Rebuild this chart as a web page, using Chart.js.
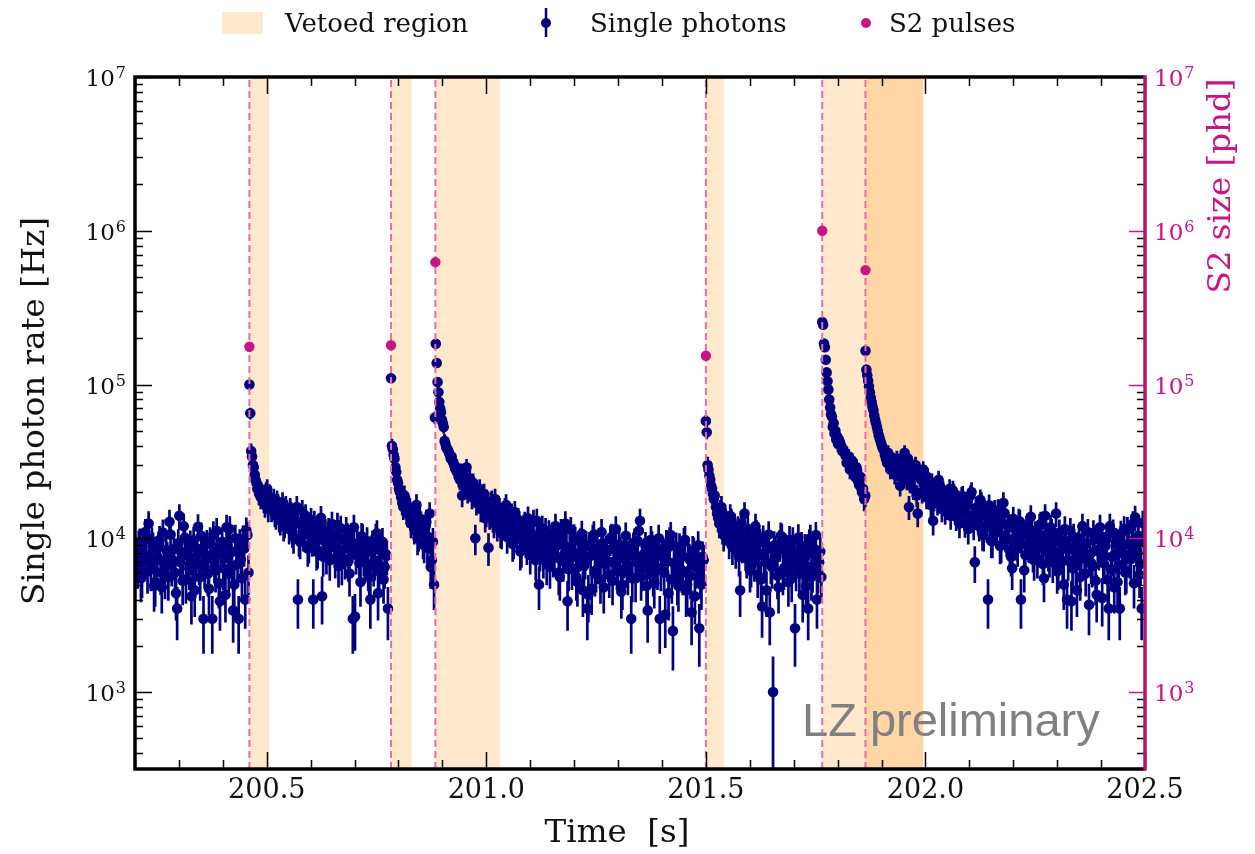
<!DOCTYPE html>
<html>
<head>
<meta charset="utf-8">
<script src="https://cdn.jsdelivr.net/npm/chart.js@4.4.1/dist/chart.umd.min.js"></script>
<style>
  html, body { margin: 0; padding: 0; background: #fff; }
  canvas { display: block; }
</style>
</head>
<body>
<canvas id="rateChart" width="1255" height="854"></canvas>
<script>
// Single photon rate around large S2 pulses (rates in kHz, binned)
const binWidth = 0.002; // s, counting window behind the Poisson error bars

const quiet0 = [8.2, 6.5, 9.4, 5.8, 7.1, 10.2, 12.5, 6.3, 8.8, 5.2, 7.6, 9.8, 4.8, 6.9, 8.4, 5.6, 10.6, 7.2, 6.0, 3.5,
  14.0, 8.1, 12.0, 5.4, 7.7, 9.1, 6.2, 4.6, 8.6, 6.8, 10.4, 3.0, 7.4, 5.9, 9.6, 3.0, 7.0, 11.2, 5.1, 8.0,
  6.4, 4.3, 9.0, 11.5, 6.6, 5.0, 8.3, 3.0, 7.3, 9.9, 4.0, 10.5];
const quiet0b = [7.0, 9.1, 5.5, 8.0, 11.0, 6.1, 7.8, 9.6, 4.9, 7.3, 8.9, 6.0, 10.9, 5.7, 7.5, 12.8, 6.7, 8.5, 4.4, 9.3,
  7.0, 5.3, 10.1, 8.2, 6.4, 4.2, 9.7, 7.1, 11.9, 5.6, 8.0, 6.5, 9.2, 4.7, 7.8, 10.6, 6.2, 8.7, 3.9, 9.5,
  7.4, 11.8, 5.9, 8.1, 3.4, 10.0, 6.8, 9.3, 5.5, 8.6, 11.3, 6.0];

const rise1 = [100, 65, 37, 34, 30, 29, 26, 24, 23, 21, 22, 19.5, 20, 18.5, 19];
const fall1 = [19, 16.5, 21, 17.5, 15.5, 18, 14, 16.5, 13, 17, 12.5, 15, 11.5, 14.5, 10.2, 12.8, 4.0, 9.5, 15, 11,
  12.5, 9.0, 13.2, 4.0, 10.5, 8.4, 12, 4.2, 9.6, 7.8, 11.2, 8.8, 10.6, 7.4, 12.2, 8.2, 6.8, 9.9, 11.4, 7.1,
  8.7, 3.0, 3.1, 9.2, 6.9, 10.3, 7.6, 8.1, 6.3, 4.0, 9.1, 7.2, 10.8, 6.1, 8.6, 5.4, 7.9, 3.5];
const fall1b = [17.5, 20, 15.5, 18.5, 16, 14.5, 17.5, 13.5, 15.5, 12, 16, 13.5, 15.5, 11, 13.5, 16, 9.8, 12.2, 10.5, 14,
  8.6, 11.4, 9.8, 12.6, 8.2, 10.9, 13.6, 7.6, 11, 9.3, 7.2, 12.4, 9.0, 10.2, 6.6, 11.6, 8.5, 7.3, 10.3, 5.9,
  9.4, 11.8, 7.8, 8.9, 5.2, 10.1, 7.0, 9.6, 5.6, 8.4, 6.7, 10.2, 4.4, 8.3, 9.5, 6.5, 7.7];

const rise2 = [110, 40, 38, 35, 33, 29, 27, 24, 23, 21, 20];
const fall2 = [18.5, 16, 17.5, 14.5, 15.5, 13, 11.5, 16.5, 10.5, 12.5, 9.5, 11.8, 8.7, 14.5, 7.2, 5.0];
const fall2b = [17, 19, 15, 16, 12.5, 14, 15, 10, 13.5, 11, 9, 12.8, 10.2, 6.5, 9.5];

const rise3 = [61, 184, 138, 104, 89, 77, 70, 66, 59, 56, 53, 43, 41, 39, 38, 37.5, 36, 35, 33, 34, 32, 31, 30, 28.5, 29, 27];
const fall3 = [27, 24, 19, 25.5, 29, 22, 20.5, 23, 10, 18.5, 21, 16, 19.5, 14.5, 8.7, 17, 13.5, 18, 12, 15.5,
  10.8, 14, 16.5, 11.5, 13, 9.2, 14.8, 10.5, 12.5, 8.5, 11.8, 9.6, 13.5, 7.8, 10.6, 8.9, 13, 5.0, 9.9, 7.4,
  11.2, 8.2, 6.5, 10.4, 7.6, 9.4, 6.0, 11, 7.1, 12.5, 3.9, 8.6, 6.4, 10.1, 5.6, 8.0, 9.5, 4.6, 7.3, 3.5,
  8.9, 4.7, 10.6, 6.2, 7.8, 5.4, 9.3, 6.8, 8.4, 5.8, 10.2, 7.0, 11.5, 6.1, 8.2, 5.0, 9.0, 6.6, 7.7, 3.0,
  8.8, 5.5, 9.6, 13, 6.3, 8.0, 4.9, 7.3, 9.8, 5.9, 7.9, 6.4, 3.0, 8.5, 6.0, 9.2, 4.4, 10.5, 2.5, 7.0,
  5.3, 8.7, 6.2, 9.5, 4.6, 7.5, 5.7, 8.3, 4.2, 6.8, 2.6, 5.0, 7.2];
const fall3b = [25, 27, 22, 23.5, 20, 24.5, 18.5, 21.5, 17, 19.5, 15.5, 18.5, 13.5, 16.5, 14, 17.5, 12.5, 15, 16, 11,
  13.8, 15.5, 10.2, 12.8, 14.2, 9.5, 11.8, 13.2, 8.2, 10.9, 12.4, 8.8, 11.3, 9.8, 12.8, 7.2, 10.4, 8.1, 11.6, 9.3,
  6.8, 10.8, 8.6, 7.5, 12.0, 9.0, 5.6, 10.3, 7.9, 8.8, 6.3, 11.4, 7.6, 9.7, 5.2, 8.1, 10.7, 6.6, 9.0, 4.3,
  7.7, 10.0, 5.9, 8.6, 6.9, 11.0, 4.8, 8.3, 7.1, 9.9, 5.3, 8.7, 6.4, 9.1, 4.5, 7.4, 10.4, 6.0, 8.1, 5.5,
  9.4, 7.0, 11.2, 5.6, 7.7, 8.9, 3.4, 6.7, 9.0, 5.1, 7.6, 10.0, 6.3, 8.2, 3.2, 7.1, 9.6, 5.4, 6.9, 8.8,
  4.9, 7.9, 6.0, 9.8, 5.0, 7.3, 3.3, 8.1, 6.5, 9.0, 5.7, 7.6];

const rise4 = [58, 49, 30, 28, 25.5, 24, 22, 21, 19.5, 18, 19];
const fall4 = [16, 13.5, 15, 11.5, 14, 12, 9.5, 13, 10.5, 8.4, 11.5, 4.6, 9.0, 14.5, 7.4, 10.2, 6.6, 8.8, 12.0, 5.8,
  9.4, 3.6, 7.6, 4.6, 10.6, 6.9, 1.0, 8.3, 5.7, 9.2, 10.2, 6.4, 8.0, 5.2, 7.3, 9.6, 2.6, 7.8, 5.9, 8.9,
  6.7, 4.9, 3.5, 10.0, 6.2, 8.5, 4.0, 7.0, 5.6];
const fall4b = [14.5, 12.5, 16, 10.5, 13, 11, 14, 8.8, 12, 10, 7.6, 12.5, 9.2, 8.2, 11.4, 6.2, 9.8, 7.1, 10.8, 8.0,
  5.4, 9.9, 7.0, 8.6, 3.3, 6.5, 9.0, 7.6, 4.8, 10.4, 6.0, 8.7, 7.1, 9.8, 5.5, 8.3, 6.3, 10.1, 7.4, 4.3,
  8.6, 6.6, 9.3, 5.6, 7.9, 10.5, 6.1, 8.2];

const rise5 = [255, 245, 185, 175, 145, 120, 105, 93, 80, 71, 64, 62, 53, 56, 48, 50, 44, 46, 41];
const fall5 = [44, 40, 38, 35, 33, 28, 32, 27, 29, 23, 25, 21, 19];
const fall5b = [42, 37, 36, 31, 34, 28, 30, 25, 24, 22, 20, 18];

const rise6 = [166, 125, 115, 106, 97, 89, 82, 77, 72, 68, 63, 59, 56, 53, 50, 47, 45, 43, 41, 39.5, 38];
const fall6 = [35, 31, 34, 29, 32, 27, 30, 22, 28, 36, 24, 16, 27, 21, 30, 14.5, 25, 20, 23, 18.5,
  21.5, 16.5, 13, 20, 17, 22, 15.5, 19, 16, 18, 14, 20.5, 15, 17.5, 12.5, 18.5, 14.5, 16.8, 11.5, 19,
  13.5, 7.0, 15.5, 12, 17, 10.5, 14, 4.0, 12.8, 9.6, 15, 11, 13.5, 9, 17, 10.4, 12.3, 8.4, 6.4, 11.6,
  9.3, 13, 4.0, 10.8, 7.8, 12, 9, 11.2, 7.2, 10, 8.6, 12.4, 6.8, 14, 9.5, 7.5, 11, 8.2, 14.5, 6.4,
  9.7, 7.1, 11.5, 4.0, 8.5, 3.9, 10.2, 6.6, 8.9, 5.6, 12, 7.4, 9.3, 3.7, 6.9, 10.8, 5.3, 8.4, 11.8, 4.1,
  7.7, 9.9, 3.5, 6.3, 10.9, 7.9, 5.2, 3.5, 8.8, 11.5, 6.1, 9.2, 7.3, 12.5, 13.7, 8.0, 5.8, 3.5, 9.4];
const fall6b = [33, 36, 28, 31, 26, 33, 29, 25, 31, 27, 33, 23, 29, 26, 19, 27, 24, 28, 21, 25,
  19, 23, 18, 21.5, 24, 17.5, 20.5, 15, 18.5, 21, 16.2, 19.5, 13.8, 17.5, 15.2, 18.8, 12.6, 16.5, 14, 20,
  12.2, 15.8, 13.2, 17.8, 10.6, 14.6, 11.8, 16.4, 9.6, 13.4, 11.5, 15.2, 8.9, 12.5, 14.6, 9.8, 11.9, 7.6, 13.4, 10.2,
  8.6, 12.8, 10.5, 6.2, 11.6, 9.1, 13.8, 8.0, 10.6, 7.4, 12.0, 9.0, 5.5, 10.6, 8.1, 11.8, 7.0, 9.5, 6.1, 10.9,
  8.5, 5.0, 9.6, 7.2, 11.2, 6.4, 8.8, 4.6, 10.0, 7.6, 9.2, 5.9, 11.0, 7.9, 6.6, 9.9, 4.3, 8.2, 10.3, 6.9,
  8.9, 5.4, 12.0, 7.6, 4.8, 9.4, 6.7, 10.7, 8.0, 6.0, 11.4, 7.4, 9.6, 5.1, 8.6, 10.4, 6.8, 12.6];

// [first bin time (s), bin spacing (s), rates]
const photonRuns = [
  [200.201, 0.005, quiet0], [200.2035, 0.005, quiet0b],
  [200.4605, 0.002, rise1], [200.491, 0.005, fall1], [200.4935, 0.005, fall1b],
  [200.783, 0.002, rise2], [200.806, 0.005, fall2], [200.8085, 0.005, fall2b],
  [200.883, 0.002, rise3], [200.935, 0.005, fall3], [200.9375, 0.005, fall3b],
  [201.500, 0.002, rise4], [201.523, 0.005, fall4], [201.5255, 0.005, fall4b],
  [201.765, 0.002, rise5], [201.803, 0.005, fall5], [201.8055, 0.005, fall5b],
  [201.8635, 0.002, rise6], [201.9075, 0.005, fall6], [201.910, 0.005, fall6b]
];

// S2 pulses and the veto windows they open
const s2Times = [200.4605, 200.783, 200.884, 201.5, 201.765, 201.8635];
const s2Sizes = [1.76e5, 1.80e5, 6.25e5, 1.54e5, 1.0e6, 5.55e5];
const vetoStart = [200.4605, 200.783, 200.884, 201.5, 201.765, 201.8635];
const vetoEnd = [200.506, 200.830, 201.031, 201.541, 201.995, 201.995];

const xMin = 200.2, xMax = 202.5;
const yMin = Math.pow(10, 2.5), yMax = 1e7;
const xMajor = [200.5, 201.0, 201.5, 202.0, 202.5];
const xMajorLabels = ['200.5', '201.0', '201.5', '202.0', '202.5'];
const yDecades = [3, 4, 5, 6, 7];

const NAVY = '#000080';
const S2_COLOR = '#c71585';
const VETO_FILL = 'rgba(255, 140, 0, 0.2)';
const SERIF = '"DejaVu Serif", serif';

const photons = [];
photonRuns.forEach(([t0, dt, rates]) => {
    rates.forEach((r, i) => photons.push({ x: t0 + i * dt, y: r * 1000 }));
});
const s2Points = s2Times.map((t, i) => ({ x: t, y: s2Sizes[i] }));

const pulseLines = s2Times.map(t => ({
    type: 'line',
    data: [{ x: t, y: yMin }, { x: t, y: yMax }],
    borderColor: '#ec6aa6',
    borderWidth: 2,
    borderDash: [7, 4],
    pointRadius: 0,
    yAxisID: 'y',
    order: 2
}));

function supLabel(ctx, exp, xRight, yTick, align) {
    ctx.font = '23px ' + SERIF;
    const baseW = ctx.measureText('10').width;
    ctx.font = '16px ' + SERIF;
    const expW = ctx.measureText(String(exp)).width;
    const left = align === 'right' ? xRight - expW - baseW - 1 : xRight;
    ctx.textAlign = 'left';
    ctx.textBaseline = 'alphabetic';
    ctx.font = '23px ' + SERIF;
    ctx.fillText('10', left, yTick + 9);
    ctx.font = '16px ' + SERIF;
    ctx.fillText(String(exp), left + baseW + 1, yTick + 1);
}

const framePlugin = {
    id: 'frame',
    beforeDatasetsDraw(chart) {
        const { ctx, chartArea: a, scales: { x, y } } = chart;
        ctx.save();
        ctx.beginPath();
        ctx.rect(a.left, a.top, a.right - a.left, a.bottom - a.top);
        ctx.clip();

        ctx.fillStyle = VETO_FILL;
        vetoStart.forEach((t, i) => {
            const x0 = x.getPixelForValue(t);
            const x1 = x.getPixelForValue(vetoEnd[i]);
            ctx.fillRect(x0, a.top, x1 - x0, a.bottom - a.top);
        });

        // Poisson error bars on the photon rate
        ctx.strokeStyle = NAVY;
        ctx.lineWidth = 2.7;
        ctx.beginPath();
        photons.forEach(p => {
            const err = Math.sqrt(p.y * binWidth) / binWidth;
            const px = x.getPixelForValue(p.x);
            ctx.moveTo(px, y.getPixelForValue(p.y + err));
            ctx.lineTo(px, y.getPixelForValue(Math.max(p.y - err, 1)));
        });
        ctx.stroke();
        ctx.restore();
    },
    afterDraw(chart) {
        const { ctx, chartArea: a, scales: { x, y, y2 } } = chart;
        ctx.save();

        // tick marks, all pointing inwards
        ctx.lineWidth = 1.5;
        ctx.strokeStyle = '#000';
        ctx.beginPath();
        for (let k = 0; k <= 23; k++) {
            const t = xMin + k * 0.1;
            const px = Math.round(x.getPixelForValue(t)) + 0.5;
            const len = k % 5 === 3 ? 17 : 9;
            ctx.moveTo(px, a.bottom); ctx.lineTo(px, a.bottom - len);
            ctx.moveTo(px, a.top); ctx.lineTo(px, a.top + len);
        }
        for (let d = 2; d <= 6; d++) {
            for (let m = 2; m <= 9; m++) {
                const v = m * Math.pow(10, d);
                if (v < yMin || v > yMax) continue;
                const py = Math.round(y.getPixelForValue(v)) + 0.5;
                ctx.moveTo(a.left, py); ctx.lineTo(a.left + 8, py);
                ctx.moveTo(a.right, py); ctx.lineTo(a.right - 8, py);
            }
        }
        yDecades.forEach(d => {
            const py = Math.round(y.getPixelForValue(Math.pow(10, d))) + 0.5;
            ctx.moveTo(a.left, py); ctx.lineTo(a.left + 17, py);
        });
        ctx.stroke();

        ctx.strokeStyle = S2_COLOR;
        ctx.beginPath();
        yDecades.forEach(d => {
            const py = Math.round(y2.getPixelForValue(Math.pow(10, d))) + 0.5;
            ctx.moveTo(a.right, py); ctx.lineTo(a.right - 16, py);
        });
        ctx.stroke();

        // spines
        ctx.lineWidth = 3.5;
        ctx.strokeStyle = '#000';
        ctx.beginPath();
        ctx.moveTo(a.right, a.top); ctx.lineTo(a.left, a.top);
        ctx.lineTo(a.left, a.bottom); ctx.lineTo(a.right, a.bottom);
        ctx.stroke();
        ctx.strokeStyle = '#b0186f';
        ctx.beginPath();
        ctx.moveTo(a.right, a.top - 1.75); ctx.lineTo(a.right, a.bottom + 1.75);
        ctx.stroke();

        // tick labels
        ctx.fillStyle = '#111';
        ctx.font = '27px ' + SERIF;
        ctx.textAlign = 'center';
        ctx.textBaseline = 'alphabetic';
        xMajor.forEach((t, i) => ctx.fillText(xMajorLabels[i], x.getPixelForValue(t), 798));

        yDecades.forEach(d => supLabel(ctx, d, a.left - 9, y.getPixelForValue(Math.pow(10, d)), 'right'));
        ctx.fillStyle = S2_COLOR;
        yDecades.forEach(d => supLabel(ctx, d, a.right + 9, y2.getPixelForValue(Math.pow(10, d)), 'left'));

        // axis titles
        ctx.font = '32.5px ' + SERIF;
        ctx.textAlign = 'center';
        ctx.textBaseline = 'middle';
        ctx.fillStyle = '#111';
        ctx.fillText('Time  [s]', 617, 834);
        ctx.save();
        ctx.translate(36, 411);
        ctx.rotate(-Math.PI / 2);
        ctx.fillText('Single photon rate [Hz]', 0, 0);
        ctx.restore();
        ctx.save();
        ctx.fillStyle = S2_COLOR;
        ctx.translate(1222, 186);
        ctx.rotate(-Math.PI / 2);
        ctx.fillText('S2 size [phd]', 0, 0);
        ctx.restore();

        // legend
        ctx.font = '26px ' + SERIF;
        ctx.textAlign = 'left';
        ctx.textBaseline = 'alphabetic';
        ctx.fillStyle = VETO_FILL;
        ctx.fillRect(222, 12, 41, 22);
        ctx.fillStyle = '#111';
        ctx.fillText('Vetoed region', 285, 32);
        ctx.strokeStyle = NAVY;
        ctx.lineWidth = 2.5;
        ctx.beginPath();
        ctx.moveTo(546, 8); ctx.lineTo(546, 37);
        ctx.stroke();
        ctx.fillStyle = NAVY;
        ctx.beginPath(); ctx.arc(546, 23, 5, 0, Math.PI * 2); ctx.fill();
        ctx.fillStyle = '#111';
        ctx.fillText('Single photons', 590, 32);
        ctx.fillStyle = S2_COLOR;
        ctx.beginPath(); ctx.arc(866, 23, 5, 0, Math.PI * 2); ctx.fill();
        ctx.fillStyle = '#111';
        ctx.fillText('S2 pulses', 889, 32);

        ctx.font = '47px "Liberation Sans", Arial, sans-serif';
        ctx.fillStyle = '#808080';
        ctx.fillText('LZ preliminary', 802, 736);
        ctx.restore();
    }
};

new Chart(document.getElementById('rateChart'), {
    type: 'scatter',
    data: {
        datasets: [
            {
                label: 'S2 pulses',
                data: s2Points,
                yAxisID: 'y2',
                backgroundColor: S2_COLOR,
                borderWidth: 0,
                pointRadius: 5.2,
                order: 1
            },
            ...pulseLines,
            {
                label: 'Single photons',
                data: photons,
                yAxisID: 'y',
                backgroundColor: NAVY,
                borderColor: NAVY,
                borderWidth: 0,
                pointRadius: 5.3,
                order: 3
            }
        ]
    },
    options: {
        responsive: false,
        animation: false,
        devicePixelRatio: 1,
        events: [],
        layout: { padding: { left: 135, right: 110, top: 77, bottom: 85 } },
        plugins: { legend: { display: false }, tooltip: { enabled: false } },
        scales: {
            x: { type: 'linear', min: xMin, max: xMax, display: false },
            y: { type: 'logarithmic', min: yMin, max: yMax, display: false },
            y2: { type: 'logarithmic', position: 'right', min: yMin, max: yMax, display: false }
        }
    },
    plugins: [framePlugin]
});
</script>
</body>
</html>
